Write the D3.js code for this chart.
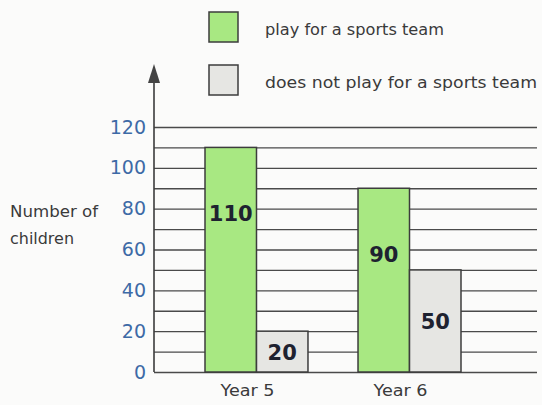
<!DOCTYPE html>
<html>
<head>
<meta charset="utf-8">
<script src="https://cdn.jsdelivr.net/npm/d3@7"></script>
<style>
  body { margin: 0; background: #fbfbfa; }
  text { font-family: "DejaVu Sans", sans-serif; }
</style>
</head>
<body>
<div id="main"></div>
<script>
// data
const years = ["Year 5", "Year 6"];
const seriesNames = ["play for a sports team", "does not play for a sports team"];
const playTeam = [110, 90];
const notPlayTeam = [20, 50];
const yTicks = [0, 20, 40, 60, 80, 100, 120];

const svgWidth = 542, svgHeight = 405;
const colors = ["#a8e882", "#e6e6e3"];
const inkColor = "#3a3a3a";
const axisX = 154, gridRight = 537;

const svg = d3.select("#main").append("svg")
  .attr("width", svgWidth).attr("height", svgHeight);

const y = d3.scaleLinear().domain([0, 120]).range([372, 127]);
const x0 = d3.scaleBand().domain(years).range([180, 486])
  .paddingInner(0.327).paddingOuter(0.1634);
const x1 = d3.scaleBand().domain(seriesNames).range([0, x0.bandwidth()]);

// grid lines every 10
svg.append("g")
  .attr("transform", "translate(" + axisX + ",0)")
  .call(d3.axisLeft(y).tickValues(d3.range(0, 121, 10)).tickSize(-(gridRight - axisX)).tickFormat(""))
  .call(g => g.select(".domain").remove())
  .call(g => g.selectAll("line").attr("stroke", "#4a4a4a").attr("stroke-width", 1.4));

// bars
const rows = years.map((yr, i) => ({ year: yr, values: [playTeam[i], notPlayTeam[i]] }));
const groups = svg.append("g").selectAll("g").data(rows).enter().append("g")
  .attr("transform", d => "translate(" + x0(d.year) + ",0)");
groups.selectAll("rect")
  .data(d => d.values.map((v, j) => ({ key: seriesNames[j], value: v, j: j })))
  .enter().append("rect")
  .attr("x", d => x1(d.key))
  .attr("y", d => y(d.value))
  .attr("width", x1.bandwidth())
  .attr("height", d => y(0) - y(d.value))
  .attr("fill", d => colors[d.j])
  .attr("stroke", "#3c3c3c").attr("stroke-width", 1.5);

// handwritten values
groups.selectAll("text.val")
  .data(d => d.values.map((v, j) => ({ key: seriesNames[j], value: v })))
  .enter().append("text")
  .attr("class", "val")
  .attr("x", d => x1(d.key) + x1.bandwidth() / 2)
  .attr("y", d => y(d.value) + Math.min(66, (y(0) - y(d.value)) / 2) + 8)
  .attr("text-anchor", "middle")
  .attr("font-size", 21).attr("font-weight", "bold")
  .attr("fill", "#1e2230")
  .text(d => d.value);

// y axis with arrow
svg.append("line")
  .attr("x1", axisX).attr("x2", axisX).attr("y1", y(0)).attr("y2", 80)
  .attr("stroke", "#3c3c3c").attr("stroke-width", 1.6);
svg.append("path")
  .attr("d", "M" + (axisX - 6) + ",83 L" + axisX + ",64 L" + (axisX + 6) + ",83 Z")
  .attr("fill", "#444");

svg.append("g")
  .attr("transform", "translate(" + axisX + ",0)")
  .call(d3.axisLeft(y).tickValues(yTicks).tickSize(0).tickPadding(8))
  .call(g => g.select(".domain").remove())
  .call(g => g.selectAll("text").attr("fill", "#3d6aa6").attr("font-size", 19)
    .style("font-family", "'DejaVu Sans', sans-serif"));

// x labels
svg.append("g").selectAll("text").data(years).enter().append("text")
  .attr("x", d => x0(d) + x0.bandwidth() / 2 - 9)
  .attr("y", 396)
  .attr("text-anchor", "middle")
  .attr("font-size", 16).attr("fill", inkColor)
  .attr("textLength", 54).attr("lengthAdjust", "spacingAndGlyphs")
  .text(d => d);

// y label
svg.append("text").attr("x", 10).attr("y", 217).attr("font-size", 16).attr("fill", inkColor)
  .attr("textLength", 88).attr("lengthAdjust", "spacingAndGlyphs").text("Number of");
svg.append("text").attr("x", 10).attr("y", 244).attr("font-size", 16).attr("fill", inkColor)
  .attr("textLength", 64).attr("lengthAdjust", "spacingAndGlyphs").text("children");

// legend
const legend = svg.append("g");
legend.selectAll("rect").data(seriesNames).enter().append("rect")
  .attr("x", 209).attr("y", (d, i) => 12 + i * 53)
  .attr("width", 29).attr("height", 30)
  .attr("fill", (d, i) => colors[i])
  .attr("stroke", "#3c3c3c").attr("stroke-width", 1.5);
legend.selectAll("text").data(seriesNames).enter().append("text")
  .attr("x", 265).attr("y", (d, i) => 35 + i * 53)
  .attr("font-size", 15).attr("fill", inkColor)
  .attr("textLength", (d, i) => i === 0 ? 179 : 272)
  .attr("lengthAdjust", "spacingAndGlyphs")
  .text(d => d);
</script>
</body>
</html>
